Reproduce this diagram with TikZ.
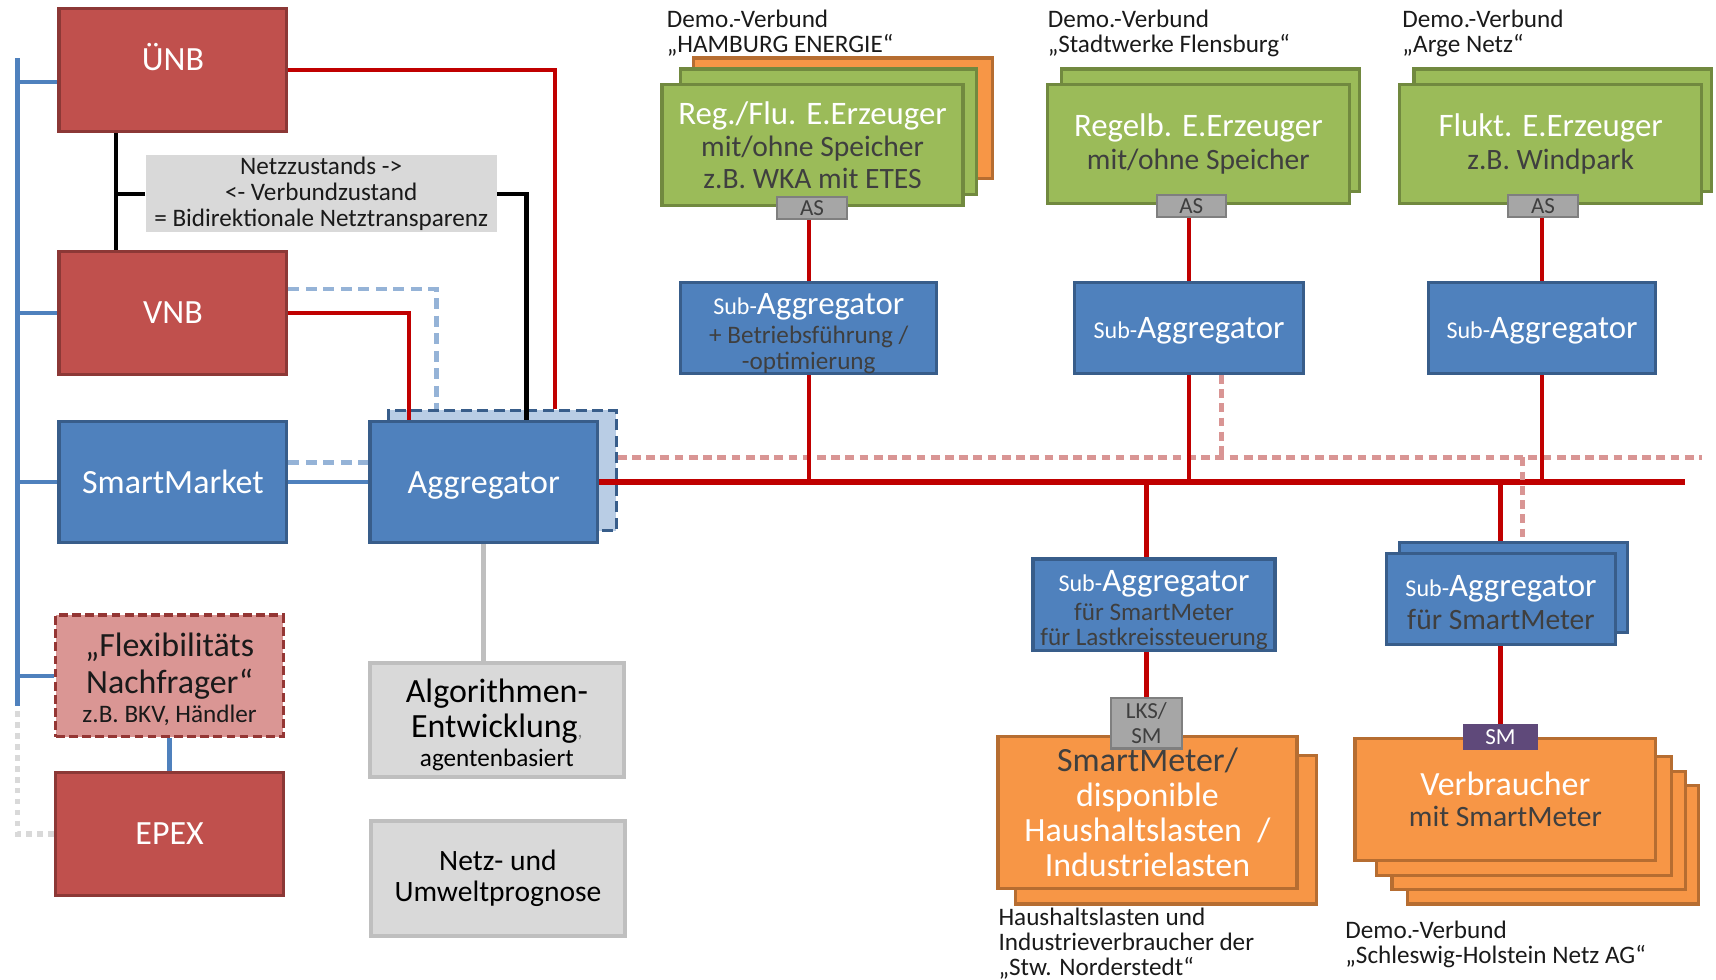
\documentclass[tikz,border=0pt]{standalone}
\usepackage{fontspec}
\setmainfont{Carlito}
\usetikzlibrary{backgrounds}
\definecolor{redfill}{HTML}{C0504D}
\definecolor{redborder}{HTML}{8C3836}
\definecolor{bluefill}{HTML}{4F81BD}
\definecolor{blueborder}{HTML}{385D8A}
\definecolor{greenfill}{HTML}{9BBB59}
\definecolor{greenborder}{HTML}{71893F}
\definecolor{orangefill}{HTML}{F79646}
\definecolor{orangeborder}{HTML}{B66D31}
\definecolor{grayfill}{HTML}{D9D9D9}
\definecolor{grayborder}{HTML}{BFBFBF}
\definecolor{tagfill}{HTML}{A6A6A6}
\definecolor{tagborder}{HTML}{7F7F7F}
\definecolor{linered}{HTML}{C00000}
\definecolor{lightblue}{HTML}{95B3D7}
\definecolor{pinkline}{HTML}{D99594}
\definecolor{purpletag}{HTML}{5F497A}
\definecolor{flexfill}{HTML}{DA9694}
\definecolor{flexborder}{HTML}{943634}
\definecolor{aggbackfill}{HTML}{B9CDE5}
\definecolor{darktext}{HTML}{3F3F3F}
\definecolor{blacktext}{HTML}{1A1A1A}
\newcommand\myfs[2]{\fontsize{#1}{#2}\selectfont}
% box: [options]{style}{name}{x1}{y1}{x2}{y2}{text}, coordinates in picture units
\newcommand\bx[8][]{\node[#2,#1,minimum width={(#6-#4)*0.5pt},minimum height={(#7-#5)*0.5pt}] (#3) at ({(#4+#6)/2},{(#5+#7)/2}) {#8};}
\begin{document}
\begin{tikzpicture}[x=0.5pt,y=-0.5pt,
  box/.style={inner sep=0pt, line width=1.5pt, align=center, text=white},
  redbox/.style={box, fill=redfill, draw=redborder},
  bluebox/.style={box, fill=bluefill, draw=blueborder},
  greenbox/.style={box, fill=greenfill, draw=greenborder},
  orangebox/.style={box, fill=orangefill, draw=orangeborder},
  graybox/.style={box, fill=grayfill, draw=grayborder, line width=2pt, text=black},
  labelbox/.style={inner sep=0pt, fill=grayfill, align=center, text=blacktext},
  flexbox/.style={box, fill=flexfill, draw=flexborder, dash pattern=on 4pt off 2pt, text=blacktext},
  aggbackbox/.style={box, fill=aggbackfill, draw=blueborder, dash pattern=on 5pt off 2.5pt},
  tagbox/.style={inner sep=0pt, fill=tagfill, draw=tagborder, line width=1pt, align=center, text=darktext, font=\myfs{10.5}{11.5}},
  smtag/.style={inner sep=0pt, fill=purpletag, draw=purpletag, line width=1pt, text=white, font=\myfs{10.5}{11.5}},
  lbl/.style={inner sep=0pt, align=left, text=blacktext, font=\myfs{11.5}{11.5}, anchor=north west},
  redline/.style={draw=linered, line width=2pt},
  busline/.style={draw=linered, line width=2.5pt},
  blueline/.style={draw=bluefill, line width=2pt},
  lbdash/.style={draw=lightblue, line width=2pt, dash pattern=on 5pt off 3pt},
  pinkdash/.style={draw=pinkline, line width=2pt, dash pattern=on 4pt off 2.5pt},
  blackline/.style={draw=black, line width=2pt},
  grayline/.style={draw=grayborder, line width=2.5pt},
  dotgray/.style={draw=grayfill, line width=2.5pt, dash pattern=on 2.5pt off 2.5pt}
]
\useasboundingbox (0,0) rectangle (1568,895);

% ---------------- left column ----------------
\bx[font=\myfs{15.5}{18}]{redbox}{unb}{54}{8}{262}{120}{\raisebox{12pt}{ÜNB}}
\bx[font=\myfs{15.5}{18}]{redbox}{vnb}{54}{230}{262}{342}{VNB}
\bx[font=\myfs{15.5}{18}]{bluebox}{smk}{54}{385}{262}{496}{SmartMarket}
\bx[font=\myfs{15.5}{16.5}]{flexbox}{flex}{51}{562}{259}{673}{\rule{0pt}{14pt}„Flexibilitäts\\[0.5pt]Nachfrager“\\[-3.5pt]{\myfs{11.5}{13}z.B. BKV, Händler}}
\bx[font=\myfs{15.5}{18}]{redbox}{epex}{51}{706}{259}{818}{EPEX}

\bx[font=\myfs{11.5}{11.75}]{labelbox}{state}{133}{142}{454}{212}{Netzzustands ->\\<- Verbundzustand\\= Bidirektionale Netztransparenz}

% ---------------- aggregator column ----------------
\bx[font=\myfs{15.5}{18}]{bluebox}{agg}{338}{385}{546}{496}{\raisebox{-1.5pt}[\height][\depth]{Aggregator}}
\bx[font=\myfs{15.5}{16}]{graybox}{algo}{338}{606}{570}{710}{\rule{0pt}{15pt}Algorithmen-\\Entwicklung{\color{gray}\myfs{9}{10},}\\[-3pt]{\myfs{11.5}{13}agentenbasiert}}
\bx[font=\myfs{13.5}{14}]{graybox}{prog}{339}{750}{571}{855}{Netz- und\\Umweltprognose}

% ---------------- producers ----------------
\node[lbl] (l1) at (609,9) {Demo.-Verbund\\„HAMBURG ENERGIE“};
\bx{orangebox}{g1c}{634}{53}{907}{163}{}
\bx{greenbox}{g1b}{622}{63}{892}{178}{}
\bx[text=darktext, font=\myfs{13.5}{14.5}]{greenbox}{g1a}{605}{77}{880}{188}{{\color{white}\myfs{15}{15}Reg./Flu. E.Erzeuger}\\mit/ohne Speicher\\z.B. WKA mit ETES}
\bx{tagbox}{as1}{710}{180}{774}{200}{AS}

\node[lbl] (l2) at (957,9) {Demo.-Verbund\\„Stadtwerke Flensburg“};
\bx{greenbox}{g2b}{970}{63}{1242}{175}{}
\bx[text=darktext, font=\myfs{13.5}{15}]{greenbox}{g2a}{957}{77}{1233}{186}{{\color{white}\myfs{15}{15}Regelb. E.Erzeuger}\\mit/ohne Speicher}
\bx{tagbox}{as2}{1057}{178}{1120}{198}{AS}

\node[lbl] (l3) at (1281,9) {Demo.-Verbund\\„Arge Netz“};
\bx{greenbox}{g3b}{1292}{63}{1564}{175}{}
\bx[text=darktext, font=\myfs{13.5}{15}]{greenbox}{g3a}{1279}{77}{1555}{186}{{\color{white}\myfs{15}{15}Flukt. E.Erzeuger}\\z.B. Windpark}
\bx{tagbox}{as3}{1378}{178}{1442}{198}{AS}

% ---------------- sub-aggregators ----------------
\bx[text=darktext, font=\myfs{11.5}{11.5}]{bluebox}{sa1}{622}{258}{856}{341}{\rule{0pt}{14.7pt}{\color{white}{\myfs{11}{12}Sub-}\myfs{15}{13}Aggregator}\\[2pt]+ Betriebsführung /\\-optimierung}
\bx[font=\myfs{15}{18}]{bluebox}{sa2}{982}{258}{1191}{341}{\raisebox{-1.5pt}[\height][\depth]{{\myfs{11}{12}Sub-}Aggregator}}
\bx[font=\myfs{15}{18}]{bluebox}{sa3}{1305}{258}{1513}{341}{\raisebox{-1.5pt}[\height][\depth]{{\myfs{11}{12}Sub-}Aggregator}}
\bx[text=darktext, font=\myfs{11.5}{11.5}]{bluebox}{sa4}{944}{511}{1165}{594}{\rule{0pt}{14.7pt}{\color{white}{\myfs{11}{12}Sub-}\myfs{15}{13}Aggregator}\\[2pt]für SmartMeter\\für Lastkreissteuerung}
\bx{bluebox}{sa5b}{1279}{496}{1487}{578}{}
\bx[text=darktext, font=\myfs{13.5}{15}]{bluebox}{sa5}{1267}{506}{1476}{589}{\rule{0pt}{12.7pt}{\color{white}{\myfs{11}{12}Sub-}\myfs{15}{15}Aggregator}\\für SmartMeter}

% ---------------- consumers ----------------
\bx{orangebox}{o1b}{928}{690}{1203}{826}{}
\bx[font=\myfs{15.5}{16}]{orangebox}{o1a}{912}{673}{1185}{812}{{\color{darktext}SmartMeter/}\\disponible\\Haushaltslasten\ \ /\\Industrielasten}
\bx{tagbox}{lks}{1015}{638}{1080}{684}{LKS/\\SM}
\node[lbl] (l4) at (912,829) {Haushaltslasten und\\Industrieverbraucher der\\„Stw. Norderstedt“};

\bx{orangebox}{v4}{1286}{718}{1552}{826}{}
\bx{orangebox}{v3}{1272}{705}{1540}{813}{}
\bx{orangebox}{v2}{1258}{691}{1527}{800}{}
\bx[text=darktext, font=\myfs{13.5}{15}]{orangebox}{v1}{1238}{675}{1513}{786}{{\color{white}\myfs{15.5}{16}Verbraucher}\\[-1pt]mit SmartMeter}
\bx{smtag}{smt}{1338}{663}{1404}{684}{SM}
\node[lbl] (l5) at (1229,841) {Demo.-Verbund\\„Schleswig-Holstein Netz AG“};

% ---------------- connectors ----------------
\begin{pgfonlayer}{background}
\bx{aggbackbox}{aggb}{355}{375}{563}{485}{}

\coordinate (busT) at (16,53);
\coordinate (busB) at (16,645);
\coordinate (dotT) at (16,650);
\coordinate (unbL) at ([yshift=-5.5pt]unb.west);
\draw[blueline] (busT) -- (busB);
\draw[blueline] (unbL) -- (busT |- unbL);
\draw[blueline] (vnb.west) -- (busT |- vnb.west);
\draw[blueline] (smk.west) -- (busT |- smk.west);
\draw[blueline] (flex.west) -- (busT |- flex.west);
\draw[dotgray] (dotT) |- (epex.west);
\draw[blueline] (flex.south) -- (epex.north);

\coordinate (bx) at (106,0);
\coordinate (kx) at (481,0);
\draw[blackline] (bx |- unb.south) -- (bx |- vnb.north);
\draw[blackline] (state.west) -- (bx |- state.west);
\draw[blackline] (state.east) -| (kx |- agg.north);

\coordinate (r1x) at (507,0);
\coordinate (r2x) at (374,0);
\coordinate (lbx) at (399,0);
\coordinate (vnbU) at ([yshift=11pt]vnb.east);
\draw[redline] (unb.east) -| (r1x |- aggb.north);
\draw[lbdash] (vnbU) -| (lbx |- aggb.north);
\draw[redline] (vnb.east) -| (r2x |- agg.north);
\draw[lbdash] ([yshift=9pt]smk.east) -- ([yshift=9pt]agg.west);
\draw[blueline] (smk.east) -- (agg.west);
\draw[grayline] (agg.south) -- (agg.south |- algo.north);

\coordinate (busR) at (1540,440);
\coordinate (pinkR) at (1555,418);
\draw[pinkdash] (aggb.east |- pinkR) -- (pinkR);
\draw[busline] (agg.east) -- (agg.east -| busR);

\draw[redline] (sa1.north) -- (sa1.north |- as1.south);
\draw[redline] (sa1.south) -- (sa1.south |- agg.east);
\draw[redline] (sa2.north) -- (sa2.north |- as2.south);
\draw[redline] (sa2.south) -- (sa2.south |- agg.east);
\draw[redline] (sa3.north) -- (sa3.north |- as3.south);
\draw[redline] (sa3.south) -- (sa3.south |- agg.east);

\draw[redline] (lks.north) -- (lks.north |- sa4.south);
\draw[redline] (lks.north |- sa4.north) -- (lks.north |- agg.east);
\draw[redline] (smt.north) -- (smt.north |- sa5.south);
\draw[redline] (smt.north |- sa5b.north) -- (smt.north |- agg.east);

\coordinate (p1x) at (1116,0);
\coordinate (p2x) at (1391,0);
\draw[pinkdash] (p1x |- sa2.south) -- (p1x |- pinkR);
\draw[pinkdash] (p2x |- pinkR) -- (p2x |- sa5b.north);
\end{pgfonlayer}
\end{tikzpicture}
\end{document}
